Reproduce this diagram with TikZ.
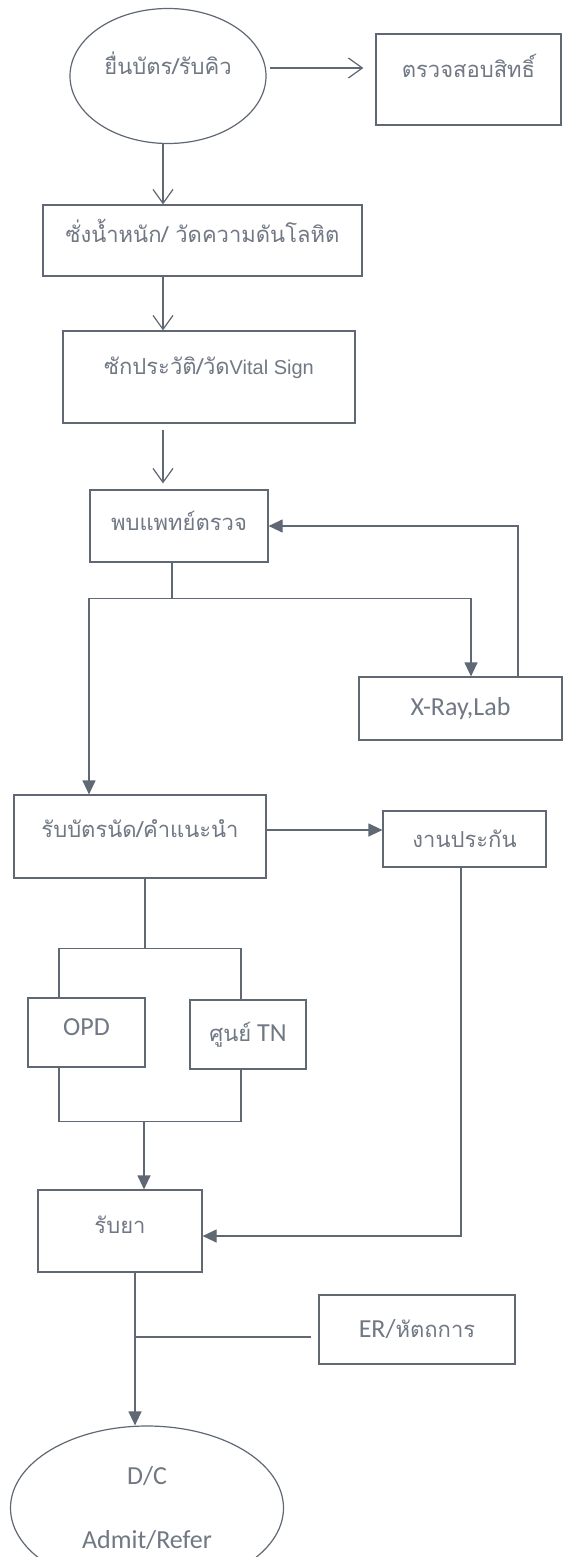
\documentclass[tikz,border=0pt]{standalone}
\usepackage{fontspec}
\setmainfont{Carlito}
\newfontfamily\thaifont[Script=Thai]{Loma}
\newfontfamily\arialfont{Liberation Sans}
\usetikzlibrary{arrows.meta,shapes.geometric}
\definecolor{linegray}{RGB}{96,104,116}
\definecolor{textgray}{RGB}{112,120,132}
\begin{document}
\begin{tikzpicture}[x=1pt,y=-1pt,line width=1.2pt,draw=linegray,
  box/.style={draw=linegray,rectangle,inner sep=0pt,text=textgray},
  oval/.style={draw=linegray,ellipse,inner sep=0pt,text=textgray},
  open/.style={-{Straight Barb[length=14pt,width=20pt,line width=1.2pt]}},
  tip/.style={-{Triangle[length=14pt,width=13pt]}},
  th/.style={font=\thaifont\fontsize{22}{26}\selectfont},
  lat/.style={font=\fontsize{26}{30}\selectfont}]
%\draw[help lines, step=50pt] (0,0) grid (563,1557);
\useasboundingbox[fill=white] (0,0) rectangle (563,1557);
%%%%%%%%%%%%%%%%%%%%%%%%%%%%%%% OPD service flow
\node[oval,th,minimum width=196pt,minimum height=135pt,text depth=26pt](card) at (168,76){ยื่นบัตร/รับคิว};
\node[box,th,minimum width=185pt,minimum height=91pt,text depth=28pt](rights) at (468.5,79.5){ตรวจสอบสิทธิ์};
\node[box,th,minimum width=319pt,minimum height=71pt,text depth=20pt](weigh) at (202.5,240.5){ซั่งน้ำหนัก/ วัดความดันโลหิต};
\node[box,th,minimum width=292pt,minimum height=92pt,text depth=22pt](history) at (209,377){ซักประวัติ/วัด{\arialfont\fontsize{20}{24}\selectfont Vital Sign}};
\node[box,th,minimum width=178pt,minimum height=72pt,text depth=10pt](doctor) at (179,526){พบแพทย์ตรวจ};
\node[box,lat,minimum width=203pt,minimum height=63pt](xray) at (460.5,708.5){X-Ray,Lab};
\node[box,th,minimum width=252pt,minimum height=83pt,text depth=15pt](appoint) at (140,836.5){รับบัตรนัด/คำแนะนำ};
\node[box,th,minimum width=163pt,minimum height=56pt](insure) at (464.5,839){งานประกัน};
\node[box,lat,minimum width=117pt,minimum height=69pt,text depth=10pt](opd) at (86.5,1032.5){OPD};
\node[box,lat,minimum width=116pt,minimum height=69pt](tn) at (248,1034.5){{\thaifont\fontsize{22}{26}\selectfont ศูนย์} TN};
\node[box,th,minimum width=164pt,minimum height=82pt,text depth=12pt](drug) at (120,1231){รับยา};
\node[box,lat,minimum width=196pt,minimum height=69pt](er) at (417,1329.5){ER/{\thaifont\fontsize{22}{26}\selectfont หัตถการ}};
\node[oval,lat,minimum width=273pt,minimum height=164pt,align=center](out) at (147,1508){D/C\\[34pt]Admit/Refer};
\coordinate(spine) at ([xshift=-5pt]card.south);
\coordinate(fork) at ([xshift=-7pt,yshift=-36pt]doctor.south);
\coordinate(join1) at ([xshift=5pt,yshift=-70pt]appoint.south);
\coordinate(join2) at ([xshift=24pt,yshift=68pt]drug.north);
\coordinate(stem) at ([xshift=15pt]drug.south);
\coordinate(erout) at ([yshift=-7.5pt]er.west);
\draw[open,shorten <=3pt,shorten >=12pt] ([yshift=8pt]card.east) -- ([yshift=8pt]card.east -| rights.west);
\draw[open] (spine) -- (spine |- weigh.north);
\draw[open] (spine |- weigh.south) -- (spine |- history.north);
\draw[open,shorten <=6pt,shorten >=6pt] (spine |- history.south) -- (spine |- doctor.north);
\draw (fork |- doctor.south) -- (fork);
\draw[tip] (fork) -| ([xshift=-51pt]appoint.north);
\draw[tip] (fork) -| ([xshift=10.5pt]xray.north);
\draw[tip] ([xshift=57.5pt]xray.north) |- (doctor.east);
\draw[tip] ([yshift=6.5pt]appoint.east) -- ([yshift=6.5pt]appoint.east -| insure.west);
\draw (join1 |- appoint.south) -- (join1);
\draw ([xshift=-27.5pt]opd.north) |- (join1) -| ([xshift=-7pt]tn.north);
\draw ([xshift=-27.5pt]opd.south) |- (join2) -| ([xshift=-7pt]tn.south);
\draw[tip] (join2) -- (join2 |- drug.north);
\draw[tip] ([xshift=-3.5pt]insure.south) |- ([yshift=-5pt]drug.east);
\draw[tip] (stem) -- (stem |- out.north);
\draw[shorten <=7pt] (erout) -- (erout -| stem);
\end{tikzpicture}
\end{document}
